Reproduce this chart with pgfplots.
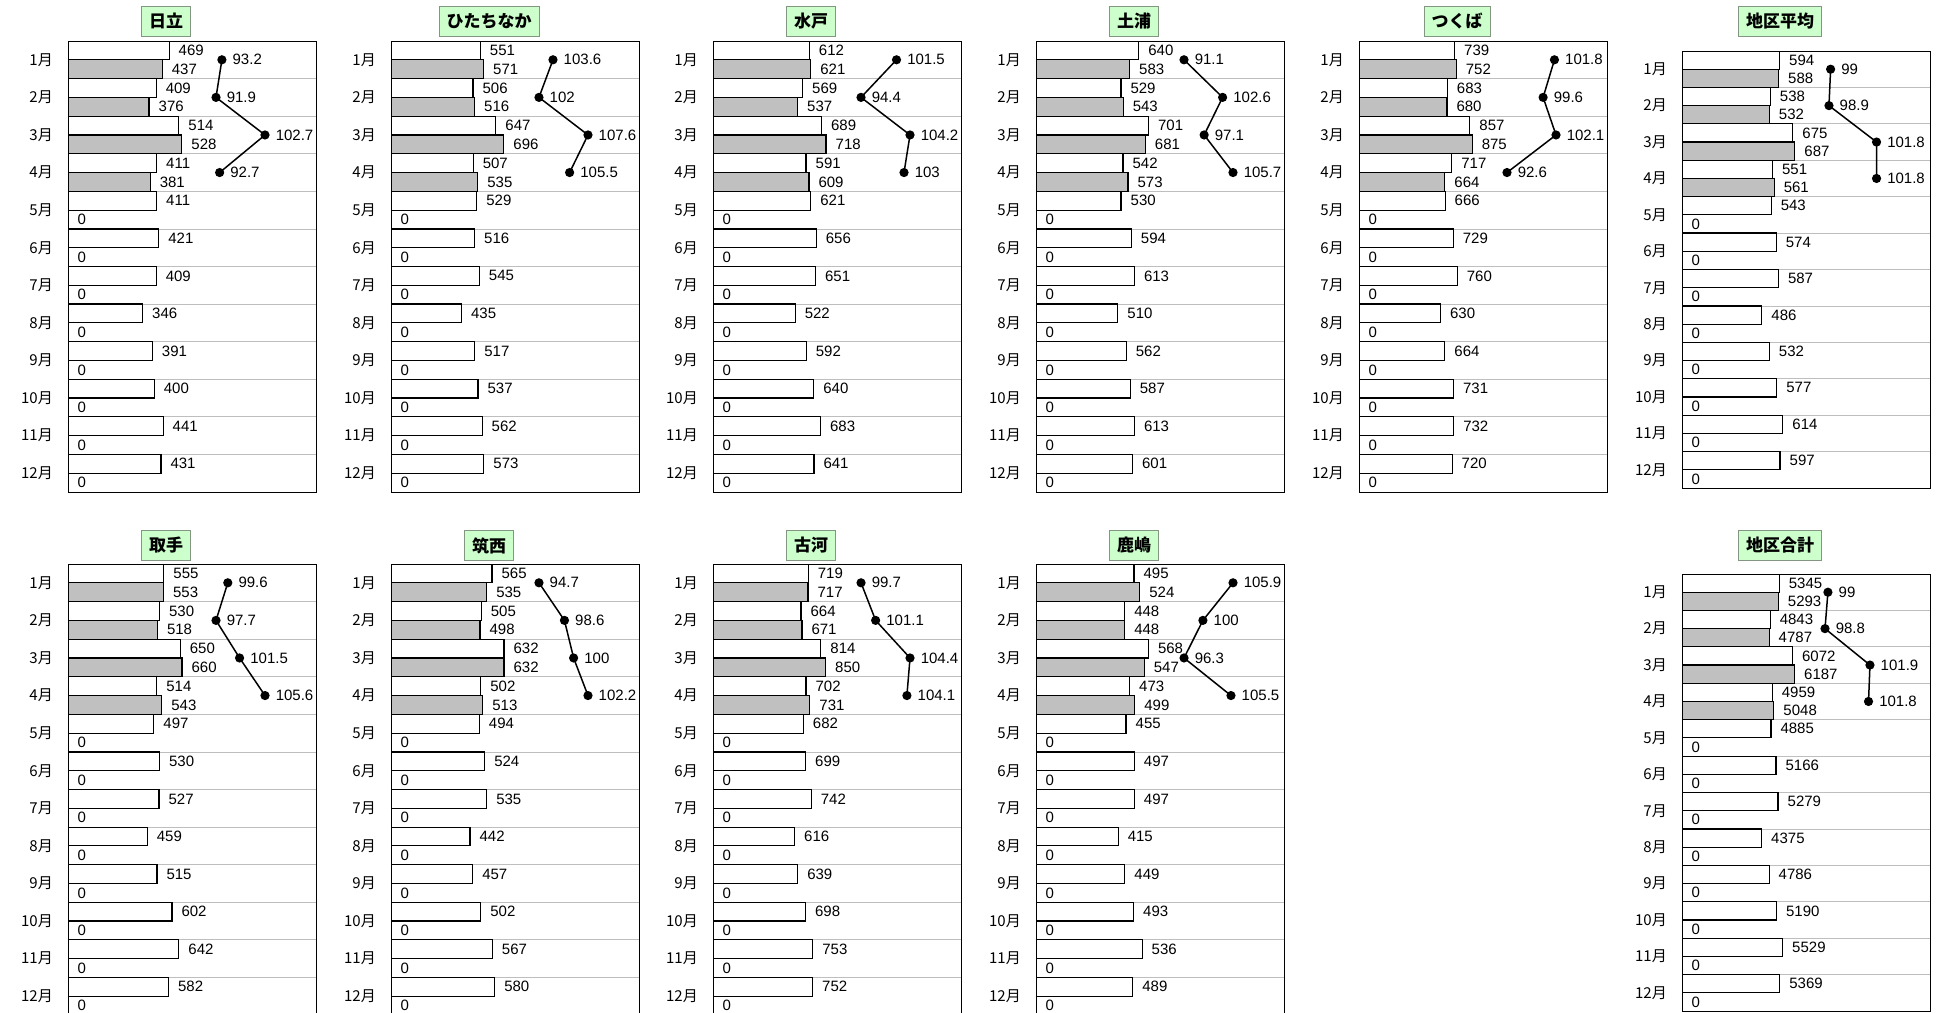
\documentclass[border=0pt]{standalone}
\usepackage{pgfplots}
\pgfplotsset{compat=1.18}
\usepackage{pgfplotstable}
\usepackage{fontspec}
\setmainfont{Liberation Sans}
\newfontfamily\cjk{Noto Sans CJK JP}
\definecolor{bargray}{RGB}{192,192,192}
\definecolor{titlefill}{RGB}{204,255,204}
\definecolor{titledraw}{RGB}{130,150,130}
\definecolor{gridgray}{RGB}{190,190,190}
\newcommand\labfont{\fontsize{15}{15}\selectfont}
\newcommand\monthfont{\cjk\fontsize{15}{15}\selectfont}
\pgfkeys{/pgf/number format/.cd, fixed, precision=1, 1000 sep={}, assume math mode=true}

\pgfplotstableread{
m prev cur ratio
1 469 437 93.2
2 409 376 91.9
3 514 528 102.7
4 411 381 92.7
5 411 0 nan
6 421 0 nan
7 409 0 nan
8 346 0 nan
9 391 0 nan
10 400 0 nan
11 441 0 nan
12 431 0 nan
}\tHitachi
\pgfplotstableread{
m prev cur ratio
1 551 571 103.6
2 506 516 102
3 647 696 107.6
4 507 535 105.5
5 529 0 nan
6 516 0 nan
7 545 0 nan
8 435 0 nan
9 517 0 nan
10 537 0 nan
11 562 0 nan
12 573 0 nan
}\tHitachinaka
\pgfplotstableread{
m prev cur ratio
1 612 621 101.5
2 569 537 94.4
3 689 718 104.2
4 591 609 103
5 621 0 nan
6 656 0 nan
7 651 0 nan
8 522 0 nan
9 592 0 nan
10 640 0 nan
11 683 0 nan
12 641 0 nan
}\tMito
\pgfplotstableread{
m prev cur ratio
1 640 583 91.1
2 529 543 102.6
3 701 681 97.1
4 542 573 105.7
5 530 0 nan
6 594 0 nan
7 613 0 nan
8 510 0 nan
9 562 0 nan
10 587 0 nan
11 613 0 nan
12 601 0 nan
}\tTsuchiura
\pgfplotstableread{
m prev cur ratio
1 739 752 101.8
2 683 680 99.6
3 857 875 102.1
4 717 664 92.6
5 666 0 nan
6 729 0 nan
7 760 0 nan
8 630 0 nan
9 664 0 nan
10 731 0 nan
11 732 0 nan
12 720 0 nan
}\tTsukuba
\pgfplotstableread{
m prev cur ratio
1 594 588 99
2 538 532 98.9
3 675 687 101.8
4 551 561 101.8
5 543 0 nan
6 574 0 nan
7 587 0 nan
8 486 0 nan
9 532 0 nan
10 577 0 nan
11 614 0 nan
12 597 0 nan
}\tAvg
\pgfplotstableread{
m prev cur ratio
1 555 553 99.6
2 530 518 97.7
3 650 660 101.5
4 514 543 105.6
5 497 0 nan
6 530 0 nan
7 527 0 nan
8 459 0 nan
9 515 0 nan
10 602 0 nan
11 642 0 nan
12 582 0 nan
}\tToride
\pgfplotstableread{
m prev cur ratio
1 565 535 94.7
2 505 498 98.6
3 632 632 100
4 502 513 102.2
5 494 0 nan
6 524 0 nan
7 535 0 nan
8 442 0 nan
9 457 0 nan
10 502 0 nan
11 567 0 nan
12 580 0 nan
}\tChikusei
\pgfplotstableread{
m prev cur ratio
1 719 717 99.7
2 664 671 101.1
3 814 850 104.4
4 702 731 104.1
5 682 0 nan
6 699 0 nan
7 742 0 nan
8 616 0 nan
9 639 0 nan
10 698 0 nan
11 753 0 nan
12 752 0 nan
}\tKoga
\pgfplotstableread{
m prev cur ratio
1 495 524 105.9
2 448 448 100
3 568 547 96.3
4 473 499 105.5
5 455 0 nan
6 497 0 nan
7 497 0 nan
8 415 0 nan
9 449 0 nan
10 493 0 nan
11 536 0 nan
12 489 0 nan
}\tKashima
\pgfplotstableread{
m prev cur ratio
1 5345 5293 99
2 4843 4787 98.8
3 6072 6187 101.9
4 4959 5048 101.8
5 4885 0 nan
6 5166 0 nan
7 5279 0 nan
8 4375 0 nan
9 4786 0 nan
10 5190 0 nan
11 5529 0 nan
12 5369 0 nan
}\tTotal

\pgfplotsset{
  panel/.style={anchor=north west, width=248pt, scale only axis,
    xmin=0, ymin=0.5, ymax=12.5, y dir=reverse,
    axis line style={black, line width=1pt},
    xtick=\empty, ytick={1,...,12},
    yticklabels={1月,2月,3月,4月,5月,6月,7月,8月,9月,10月,11月,12月},
    yticklabel style={font=\monthfont, inner sep=0pt, xshift=-15pt},
    major tick length=0pt, minor tick length=0pt,
    minor ytick={1.5,2.5,...,11.5}, yminorgrids,
    minor grid style={line width=0.8pt, color=gridgray},
    nodes near coords, point meta=x, nodes near coords align={horizontal},
    every node near coord/.append style={anchor=west, font=\labfont, inner sep=0pt, xshift=9pt},
  },
  lineaxis/.style={anchor=north west, width=248pt, scale only axis,
    ymin=0.5, ymax=12.5, y dir=reverse, hide axis, clip=false},
}
\tikzset{
  titlebox/.style={draw=titledraw, fill=titlefill, line width=0.8pt,
    font=\cjk\bfseries\fontsize{17}{17}\selectfont, inner xsep=7.5pt, inner ysep=0pt,
    minimum height=30pt},
}

% #1 x, #2 top, #3 height, #4 title, #5 table, #6 bar xmax, #7 line xmin, #8 line xmax, #9 title centre y
\newcommand{\panel}[9]{%
  \node[titlebox] at (#1pt+98pt,-#9pt) {#4};
  \begin{axis}[panel, at={(#1pt,-#2pt)}, height=#3pt, xmax=#6]
    \addplot[xbar, bar width=0.5, bar shift=0pt, fill=white, draw=black, line width=1.2pt] table[x=prev,y expr=\thisrow{m}-0.25]{#5};
    \addplot[xbar, bar width=0.5, bar shift=0pt, fill=bargray, draw=black, line width=1.2pt] table[x=cur,y expr=\thisrow{m}+0.25]{#5};
  \end{axis}
  \begin{axis}[lineaxis, at={(#1pt,-#2pt)}, height=#3pt, xmin=#7, xmax=#8]
    \addplot[black, line width=1.5pt, mark=*, mark size=3.8pt,
      nodes near coords, point meta=x,
      every node near coord/.append style={anchor=west, font=\labfont, inner sep=0pt, xshift=10pt}]
      table[x=ratio,y=m]{#5};
  \end{axis}
}

\begin{document}
\begin{tikzpicture}
\useasboundingbox (0,0) rectangle (1948pt,-1012pt);
\clip (0,0) rectangle (1948pt,-1012pt);
\panel{68}{41}{451}{日立}{\tHitachi}{1150}{59.28}{113.94}{21}
\panel{391}{41}{451}{ひたちなか}{\tHitachinaka}{1530}{85.09}{113.43}{21}
\panel{713}{41}{451}{水戸}{\tMito}{1575}{64.8}{114.4}{21}
\panel{1036}{41}{451}{土浦}{\tTsuchiura}{1545}{47.0}{120.9}{21}
\panel{1359}{41}{451}{つくば}{\tTsukuba}{1918}{63.91}{111.99}{21}
\panel{1682}{51}{437}{地区平均}{\tAvg}{1510}{89.94}{105.06}{21}
\panel{68}{564}{451}{取手}{\tToride}{1436}{73.84}{113.82}{545.5}
\panel{391}{564}{451}{筑西}{\tChikusei}{1387}{72.05}{110.01}{545.5}
\panel{713}{564}{451}{古河}{\tKoga}{1872}{85.5}{109.29}{545.5}
\panel{1036}{564}{451}{鹿嶋}{\tKashima}{1253}{67.3}{115.89}{545.5}
\panel{1682}{574}{437}{地区合計}{\tTotal}{13627}{88.94}{106.04}{545.5}
\end{tikzpicture}
\end{document}
